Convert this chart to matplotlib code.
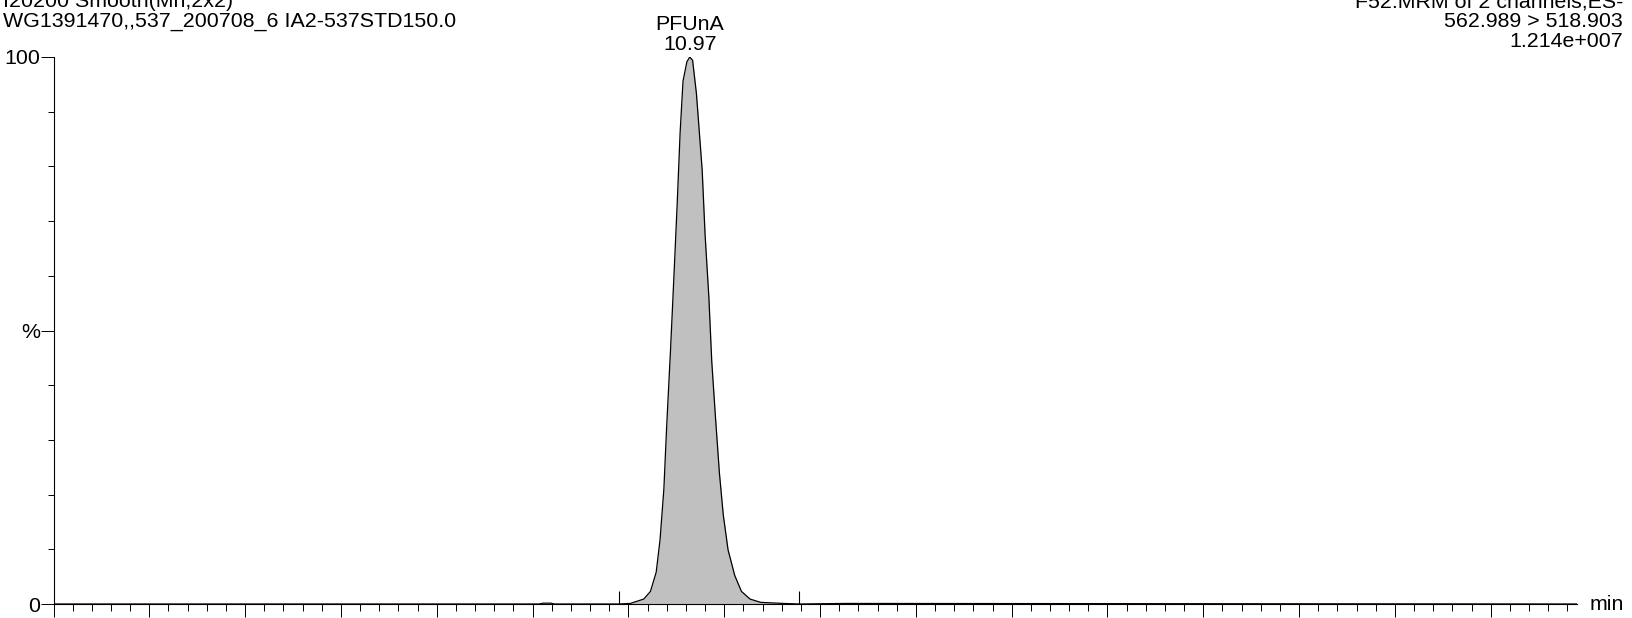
import matplotlib.pyplot as plt
from matplotlib.ticker import MultipleLocator, FixedLocator
import numpy as np

plt.rcParams["font.family"] = ["Liberation Sans", "DejaVu Sans"]

# chromatogram trace (retention time in min, relative intensity in %)
times = np.array([
    4.33, 9.40, 9.44, 9.52, 9.56, 10.23, 10.35, 10.49, 10.56, 10.62,
    10.66, 10.70, 10.73, 10.77, 10.81, 10.84, 10.87, 10.90, 10.94, 10.97,
    11.00, 11.04, 11.10, 11.13, 11.17, 11.20, 11.24, 11.28, 11.32, 11.37,
    11.44, 11.51, 11.60, 11.71, 11.95, 12.11, 12.60, 20.23,
])
intensity = np.array([
    0.0, 0.0, 0.15, 0.15, 0.0, 0.0, 0.1, 0.9, 2.3, 5.8,
    11.7, 21.0, 32.7, 46.6, 61.8, 73.5, 86.3, 95.6, 99.1, 100.0,
    99.4, 93.3, 79.3, 67.6, 56.0, 44.3, 33.8, 23.9, 16.3, 9.9,
    5.2, 2.3, 0.9, 0.3, 0.1, 0.0, 0.1, 0.0,
])

peak_name = "PFUnA"
peak_rt = 10.97
integration_limits = [10.23, 12.11]

x_range = (4.33, 20.23)
y_labels = ["0", "%", "100"]

header_left = ["I20200 Smooth(Mn,2x2)", "WG1391470,,537_200708_6 IA2-537STD150.0"]
header_right = ["F52:MRM of 2 channels,ES-", "562.989 > 518.903", "1.214e+007"]

W, H = 1632, 618
FS = 15.4
fig = plt.figure(figsize=(W / 100, H / 100), dpi=100)
ax = fig.add_axes([53.5 / W, 14 / H, (1577 - 53.5) / W, (604 - 57) / H])

ax.plot(times, intensity, color="black", linewidth=0.9)
mask = (times >= integration_limits[0]) & (times <= integration_limits[1])
ax.fill_between(times, intensity, 0, where=mask, color="#c0c0c0", linewidth=0)
ax.vlines(integration_limits, 0, 2.3, color="black", linewidth=0.8)

ax.set_xlim(*x_range)
ax.set_ylim(0, 100)

for side in ["top", "right"]:
    ax.spines[side].set_visible(False)
for side in ["left", "bottom"]:
    ax.spines[side].set_linewidth(0.8)

ax.xaxis.set_major_locator(FixedLocator(np.arange(x_range[0], x_range[1] + 0.01, 1.0)))
ax.xaxis.set_minor_locator(FixedLocator(np.arange(x_range[0], x_range[1] + 0.01, 0.2)))
ax.tick_params(axis="x", which="major", length=9.4, width=0.7, labelbottom=False)
ax.tick_params(axis="x", which="minor", length=5, width=0.7)

ax.set_yticks([0, 50, 100])
ax.set_yticklabels(y_labels)
ax.yaxis.set_minor_locator(MultipleLocator(10))
ax.tick_params(axis="y", which="major", length=9.4, width=0.7, pad=0.5, labelsize=FS)
ax.tick_params(axis="y", which="minor", length=4.3, width=0.7)


def px_text(x, y, s, ha):
    fig.text(x / W, 1 - y / H, s, ha=ha, va="baseline", fontsize=FS)


# header lines (the first line is partly cut by the top edge, as in the source)
px_text(3, 7, header_left[0], "left")
px_text(3, 27, header_left[1], "left")
px_text(1623, 7, header_right[0], "right")
px_text(1623, 27, header_right[1], "right")
px_text(1623, 47, header_right[2], "right")

peak_x = ax.transData.transform((peak_rt, 0))[0]
px_text(peak_x, 30, peak_name, "center")
px_text(peak_x, 50, f"{peak_rt:.2f}", "center")

fig.text(1590 / W, 1 - 604 / H, "min", ha="left", va="center", fontsize=FS)

fig.savefig("out.png", dpi=100)
